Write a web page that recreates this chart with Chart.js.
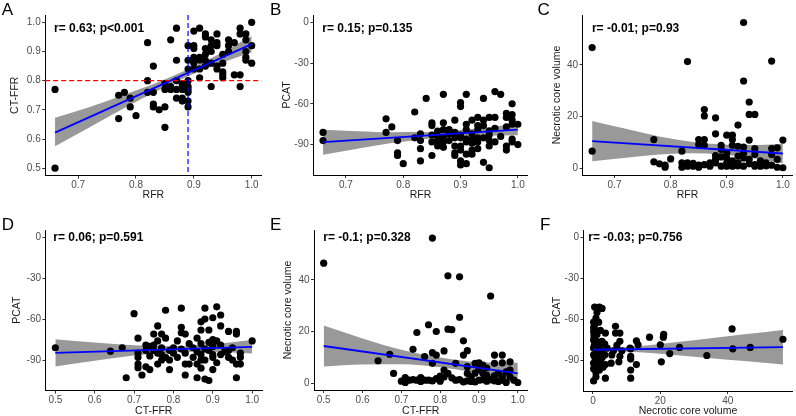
<!DOCTYPE html>
<html><head><meta charset="utf-8">
<script src="https://cdn.jsdelivr.net/npm/chart.js@4.4.1/dist/chart.umd.min.js"></script>
<style>
html,body{margin:0;padding:0;background:#fff;}
#wrap{position:relative;width:796px;height:416px;overflow:hidden;font-family:"Liberation Sans",Arial,sans-serif;}
#wrap canvas{position:absolute;}
.lab{position:absolute;font-size:17px;line-height:17px;color:#000;font-family:"Liberation Sans",Arial,sans-serif;}
</style></head>
<body><div id="wrap"></div>
<script>
// ---------- tick labels ----------
const rfrTicks = [0.7, 0.8, 0.9, 1.0];
const ctffrTicks = [0.5, 0.6, 0.7, 0.8, 0.9, 1.0];
const pcatTicks = [-90, -60, -30, 0];
const ncvTicks = [0, 20, 40];
const statLabels = ['r= 0.63; p<0.001','r= 0.15; p=0.135','r= -0.01; p=0.93','r= 0.06; p=0.591','r= -0.1; p=0.328','r= -0.03; p=0.756'];
const panelLetters = ['A','B','C','D','E','F'];

// ---------- A: RFR vs CT-FFR ----------
const pointsA = [[0.66,0.77],[0.66,0.50],[0.77,0.75],[0.78,0.76],[0.77,0.67],[0.79,0.74],[0.79,0.71],[0.80,0.68],[0.82,0.93],[0.82,0.80],[0.82,0.76],[0.83,0.85],[0.83,0.76],[0.83,0.72],[0.83,0.71],[0.84,0.70],[0.85,0.71],[0.85,0.64],[0.85,0.77],[0.85,0.79],[0.86,0.77],[0.86,0.94],[0.87,0.98],[0.87,0.87],[0.87,0.80],[0.87,0.74],[0.87,0.77],[0.88,0.79],[0.88,0.74],[0.88,0.73],[0.88,0.77],[0.89,0.92],[0.89,0.87],[0.89,0.84],[0.89,0.78],[0.89,0.76],[0.89,0.73],[0.89,0.71],[0.90,0.97],[0.90,0.92],[0.90,0.91],[0.90,0.88],[0.90,0.84],[0.91,0.98],[0.91,0.88],[0.91,0.81],[0.92,0.95],[0.92,0.91],[0.92,0.87],[0.92,0.96],[0.93,0.94],[0.93,0.90],[0.93,0.86],[0.93,0.78],[0.94,0.96],[0.94,0.93],[0.94,0.85],[0.94,0.84],[0.95,0.82],[0.95,0.81],[0.95,0.89],[0.95,0.83],[0.96,0.94],[0.96,0.92],[0.97,0.82],[0.98,0.98],[0.98,0.96],[0.98,0.82],[0.98,0.78],[0.99,0.96],[0.99,0.94],[0.99,0.90],[0.99,0.88],[0.99,0.87],[1.00,1.00],[1.00,0.86],[1.00,0.92],[0.91,0.87],[0.92,0.89],[0.93,0.92],[0.94,0.92],[0.95,0.86],[0.96,0.90],[0.97,0.93],[0.90,0.86],[0.91,0.84],[0.92,0.85],[0.88,0.78],[0.86,0.78],[0.89,0.77],[0.89,0.80]];
const fitA = [[0.66,0.622],[1.0,0.925]];
const bandA = [[0.66,0.575,0.673],[0.72,0.640,0.710],[0.78,0.706,0.752],[0.84,0.768,0.796],[0.89,0.815,0.839],[0.94,0.855,0.887],[1.0,0.897,0.953]];
const refA = {ctffrCut:0.8, rfrCut:0.89};

// ---------- B: RFR vs PCAT ----------
const pointsB = [[0.66,-81],[0.66,-87],[0.77,-71],[0.77,-81],[0.78,-77],[0.79,-87],[0.79,-96],[0.79,-98],[0.80,-104],[0.82,-66],[0.82,-85],[0.83,-82],[0.83,-93],[0.83,-102],[0.83,-87],[0.84,-56],[0.85,-74],[0.85,-76],[0.85,-83],[0.85,-98],[0.86,-84],[0.86,-87],[0.86,-91],[0.87,-53],[0.87,-74],[0.87,-79],[0.87,-85],[0.87,-92],[0.88,-79],[0.88,-82],[0.89,-72],[0.89,-85],[0.89,-91],[0.89,-96],[0.89,-98],[0.90,-59],[0.90,-62],[0.90,-83],[0.90,-91],[0.90,-102],[0.90,-105],[0.91,-53],[0.91,-75],[0.91,-86],[0.91,-88],[0.91,-104],[0.92,-72],[0.92,-89],[0.92,-94],[0.92,-97],[0.93,-70],[0.93,-76],[0.93,-85],[0.93,-88],[0.94,-56],[0.94,-72],[0.94,-103],[0.95,-70],[0.95,-83],[0.95,-91],[0.95,-107],[0.95,-87],[0.96,-51],[0.96,-70],[0.97,-53],[0.98,-67],[0.98,-70],[0.98,-91],[0.98,-94],[0.99,-60],[0.99,-68],[0.99,-75],[0.99,-86],[0.99,-88],[1.00,-75],[1.00,-90],[0.88,-87],[0.89,-81],[0.90,-85],[0.91,-79],[0.92,-82],[0.93,-79],[0.94,-85],[0.95,-80],[0.96,-88],[0.87,-88],[0.86,-80],[0.85,-88],[0.90,-94],[0.91,-97],[0.92,-86],[0.93,-93],[0.94,-76],[0.96,-78],[0.98,-77],[0.99,-72],[0.97,-84]];
const fitB = [[0.66,-88.2],[1.0,-78.9]];
const bandB = [[0.66,-97.4,-79.0],[0.72,-93.1,-80.1],[0.78,-88.9,-80.9],[0.84,-85.8,-80.8],[0.89,-84.1,-79.7],[0.94,-83.5,-77.5],[1.0,-83.2,-74.6]];

// ---------- C: RFR vs Necrotic core volume ----------
const pointsC = [[0.66,46.7],[0.66,6.7],[0.77,11.2],[0.77,2.6],[0.78,1.8],[0.79,1.3],[0.79,0.5],[0.80,3.7],[0.82,6.7],[0.82,2.2],[0.82,0.5],[0.83,41.3],[0.83,2.2],[0.83,0.9],[0.84,0.9],[0.85,11.2],[0.85,1.3],[0.85,9.3],[0.86,22.8],[0.86,20.3],[0.86,11.2],[0.86,9.0],[0.87,2.2],[0.87,0.9],[0.88,19.6],[0.88,13.4],[0.88,3.5],[0.88,2.2],[0.89,9.0],[0.89,7.4],[0.89,0.9],[0.90,12.9],[0.90,2.2],[0.90,0.9],[0.91,12.9],[0.91,11.2],[0.91,9.0],[0.91,0.9],[0.92,16.8],[0.92,8.6],[0.92,4.8],[0.92,2.2],[0.93,56.4],[0.93,33.8],[0.93,8.3],[0.93,4.1],[0.93,0.9],[0.94,25.7],[0.94,20.9],[0.94,11.0],[0.94,1.8],[0.95,20.9],[0.95,7.7],[0.95,5.4],[0.95,0.9],[0.96,0.9],[0.97,2.2],[0.98,41.5],[0.98,7.7],[0.98,5.4],[0.98,1.3],[0.99,8.0],[0.99,3.5],[0.99,0.5],[1.00,11.0],[1.00,0.3],[0.89,4.5],[0.90,6.0],[0.92,1.0],[0.93,6.0],[0.94,3.5],[0.95,1.5],[0.96,3.0],[0.97,1.0],[0.91,3.0],[0.88,5.0],[0.86,1.5],[0.85,0.5],[0.84,2.0],[0.90,4.0]];
const fitC = [[0.66,10.6],[1.0,5.8]];
const bandC = [[0.66,2.8,18.4],[0.72,4.15,15.35],[0.78,5.41,12.41],[0.84,5.86,10.26],[0.89,5.45,9.25],[0.94,4.25,9.05],[1.0,2.0,9.6]];

// ---------- D: CT-FFR vs PCAT ----------
const pointsD = [[0.50,-81],[0.64,-83.5],[0.67,-81],[0.68,-103],[0.70,-56],[0.71,-74],[0.71,-85],[0.71,-88],[0.71,-93],[0.71,-95.6],[0.72,-101],[0.73,-79],[0.73,-83],[0.73,-95],[0.74,-80],[0.74,-87],[0.74,-97],[0.75,-71],[0.75,-79],[0.75,-83],[0.76,-65],[0.76,-76],[0.76,-85],[0.76,-93],[0.77,-71],[0.77,-81],[0.77,-86],[0.77,-90],[0.78,-74],[0.78,-88],[0.78,-53.5],[0.79,-97],[0.79,-83],[0.80,-85],[0.80,-81],[0.81,-76],[0.81,-88],[0.82,-52],[0.82,-66],[0.82,-70],[0.82,-82],[0.83,-71],[0.83,-93],[0.83,-101],[0.83,-85],[0.84,-93],[0.85,-81],[0.85,-88],[0.86,-74],[0.86,-93],[0.86,-103],[0.87,-68],[0.87,-78],[0.87,-86],[0.87,-96],[0.87,-90],[0.87,-62],[0.88,-52],[0.88,-60],[0.88,-82],[0.88,-104],[0.89,-68],[0.89,-83],[0.89,-105],[0.90,-97],[0.90,-80],[0.90,-59],[0.90,-75],[0.90,-86],[0.91,-51],[0.91,-76],[0.91,-92],[0.92,-57],[0.92,-65],[0.92,-79],[0.92,-86],[0.94,-69],[0.94,-83],[0.94,-88],[0.95,-81],[0.96,-69],[0.96,-71],[0.96,-93],[0.96,-103],[0.97,-85],[0.97,-88],[0.97,-93],[1.00,-76],[0.79,-90],[0.84,-78],[0.86,-84],[0.90,-88],[0.93,-84],[0.95,-90],[0.88,-90],[0.89,-77]];
const fitD = [[0.5,-84.7],[1.0,-80.3]];
const bandD = [[0.5,-94.7,-74.7],[0.6,-90.5,-77.1],[0.7,-86.7,-79.1],[0.8,-84.4,-79.8],[0.85,-83.9,-79.3],[0.9,-83.9,-78.5],[1.0,-85.2,-75.4]];

// ---------- E: CT-FFR vs Necrotic core volume ----------
const pointsE = [[0.50,46.5],[0.64,8.8],[0.67,11.3],[0.68,3.9],[0.70,0.9],[0.71,0.4],[0.71,2.3],[0.72,1.3],[0.73,13.2],[0.74,19.7],[0.74,1.3],[0.75,2.3],[0.76,1.3],[0.76,10.4],[0.77,22.7],[0.77,1.3],[0.78,56.2],[0.78,11.9],[0.78,7.8],[0.79,20.1],[0.79,11.0],[0.79,1.9],[0.80,2.9],[0.81,12.6],[0.81,5.2],[0.82,41.6],[0.82,21.0],[0.83,20.8],[0.82,3.9],[0.83,2.2],[0.84,7.8],[0.84,1.3],[0.85,41.2],[0.85,25.6],[0.86,16.5],[0.86,11.0],[0.87,12.7],[0.87,3.9],[0.86,0.6],[0.87,1.0],[0.88,2.6],[0.89,7.8],[0.89,0.6],[0.90,8.0],[0.90,1.3],[0.91,7.1],[0.91,3.9],[0.92,0.9],[0.93,33.8],[0.92,3.2],[0.94,1.0],[0.94,11.0],[0.94,7.8],[0.95,3.9],[0.96,11.0],[0.96,8.0],[0.96,2.6],[0.97,0.4],[0.98,8.4],[0.98,5.2],[0.98,2.6],[1.00,0.4],[0.73,1.5],[0.75,0.8],[0.78,1.0],[0.80,0.9],[0.81,2.5],[0.85,1.5],[0.88,0.8],[0.90,5.5],[0.93,1.5],[0.95,0.8],[0.97,4.5],[0.99,1.3],[0.91,1.5],[0.89,4.0],[0.87,6.5],[0.92,6.0],[0.94,3.0],[0.96,1.3]];
const fitE = [[0.5,14.5],[1.0,3.9]];
const bandE = [[0.5,6.6,22.4],[0.6,7.38,17.38],[0.7,7.46,13.06],[0.8,6.24,10.04],[0.85,5.18,8.98],[0.9,3.82,8.22],[1.0,-0.2,8.0]];

// ---------- F: Necrotic core volume vs PCAT ----------
const pointsF = [[56.4,-74.5],[46.7,-80.5],[41.5,-81.5],[41.3,-67],[33.8,-86.4],[25.7,-80.5],[22.8,-85],[21.0,-71],[20.9,-73],[20.0,-78.6],[20.3,-91],[16.8,-73],[13.4,-78.6],[12.9,-75.7],[12.9,-93],[11.2,-81.5],[11.2,-87],[11.2,-89],[11.2,-97],[11.2,-103],[11.0,-81],[8.6,-83],[8.0,-70],[8.0,-76],[8.0,-87],[7.7,-91],[6.7,-65],[6.7,-70],[7.1,-79],[5.6,-86],[6.1,-83],[5.4,-92],[4.2,-81],[3.7,-70],[3.5,-78],[3.7,-103],[3.5,-86],[3.7,-93],[2.7,-52],[1.9,-51],[1.2,-55],[0.9,-59],[0.5,-51],[0.2,-62],[0.2,-66],[0.2,-69],[0.2,-75],[0.2,-81],[0.2,-86],[0.2,-92],[0.2,-96],[0.2,-105],[0.9,-102],[1.2,-71],[1.2,-76],[1.2,-83],[1.2,-90],[1.2,-93],[1.9,-80],[1.9,-87],[1.9,-97],[2.2,-68],[2.5,-83],[2.7,-88],[2.7,-76],[1.7,-62],[0.7,-68],[0.5,-64],[0.4,-79],[0.6,-88],[0.9,-99],[1.5,-85],[2.2,-91],[3.0,-95],[0.3,-72],[1.0,-78]];
const fitF = [[0,-82.2],[56.4,-80.3]];
const bandF = [[0,-84.2,-80.2],[7,-83.56,-80.36],[15,-84.2,-79.2],[25,-86.16,-76.56],[35,-88.32,-73.72],[45,-90.48,-70.88],[56.4,-92.9,-67.7]];

// ---------- layout (pixels) ----------
const FONT = '"Liberation Sans", Arial, sans-serif';
Chart.defaults.font.family = FONT;

const panels = [
  {pts:pointsA, fit:fitA, band:bandA, ref:refA, xt:'RFR', yt:'CT-FFR', xr:[0.643,1.017], yr:[0.475,1.025], xTicks:rfrTicks, yTicks:ctffrTicks, xd:1, yd:1,
   box:{x:0,y:0,w:266,h:206}, area:{l:45.2,t:15,r:261.5,b:175.5}, ytPad:8.7, xtPad:4.5, stat:[8.8,13.3], letter:[1.7,1.1]},
  {pts:pointsB, fit:fitB, band:bandB, xt:'RFR', yt:'PCAT', xr:[0.643,1.017], yr:[-112.35,5.35], xTicks:rfrTicks, yTicks:pcatTicks, xd:1, yd:0,
   box:{x:266,y:0,w:266,h:206}, area:{l:47.3,t:15,r:261.6,b:175}, ytPad:14.4, xtPad:4.5, stat:[9,13.3], letter:[270,1.1]},
  {pts:pointsC, fit:fitC, band:bandC, xt:'RFR', yt:'Necrotic core volume', xr:[0.643,1.017], yr:[-2.5,59.3], xTicks:rfrTicks, yTicks:ncvTicks, xd:1, yd:0,
   box:{x:532,y:0,w:264,h:206}, area:{l:50.6,t:15,r:264,b:175}, ytPad:18.4, xtPad:4.5, stat:[9.3,13.3], letter:[537.5,1.1]},
  {pts:pointsD, fit:fitD, band:bandD, xt:'CT-FFR', yt:'PCAT', xr:[0.475,1.025], yr:[-112.35,5.35], xTicks:ctffrTicks, yTicks:pcatTicks, xd:1, yd:0,
   box:{x:0,y:206,w:266,h:210}, area:{l:45.5,t:24,r:262,b:184.5}, ytPad:10.4, xtPad:-1, stat:[7.8,7.3], letter:[1.7,216.1]},
  {pts:pointsE, fit:fitE, band:bandE, xt:'CT-FFR', yt:'Necrotic core volume', xr:[0.475,1.025], yr:[-2.5,59.3], xTicks:ctffrTicks, yTicks:ncvTicks, xd:1, yd:0,
   box:{x:266,y:206,w:266,h:210}, area:{l:48,t:24,r:261.5,b:184}, ytPad:16, xtPad:-1, stat:[9.3,7.3], letter:[270,216.1]},
  {pts:pointsF, fit:fitF, band:bandF, xt:'Necrotic core volume', yt:'PCAT', xr:[-2.8,59.2], yr:[-112.35,5.35], xTicks:ncvTicks, yTicks:pcatTicks, xd:0, yd:0,
   box:{x:532,y:206,w:264,h:210}, area:{l:51.5,t:24,r:262,b:185}, ytPad:18.4, xtPad:-1.5, stat:[4.8,7.3], letter:[540,216.1]}
];

const statPlugin = {
  id:'stat',
  afterDraw(chart, args, o){
    const {ctx, chartArea:a} = chart;
    ctx.save();
    ctx.font = 'bold 12px ' + FONT;
    ctx.fillStyle = '#000';
    ctx.textBaseline = 'middle';
    ctx.textAlign = 'left';
    ctx.fillText(o.text, a.left + o.dx, a.top + o.dy);
    ctx.restore();
  }
};
const refPlugin = {
  id:'refl',
  afterDatasetsDraw(chart, args, o){
    const {ctx, chartArea:a, scales:{x, y}} = chart;
    ctx.save();
    ctx.lineWidth = 1.2;
    ctx.setLineDash([5,3]);
    ctx.strokeStyle = '#FF0000';
    const yy = y.getPixelForValue(o.h);
    ctx.beginPath(); ctx.moveTo(a.left, yy); ctx.lineTo(a.right, yy); ctx.stroke();
    ctx.strokeStyle = '#0000FF';
    const xx = x.getPixelForValue(o.v);
    ctx.beginPath(); ctx.moveTo(xx, a.top); ctx.lineTo(xx, a.bottom); ctx.stroke();
    ctx.restore();
  }
};

const wrap = document.getElementById('wrap');
const fmt = (v, d) => d ? Number(v).toFixed(d) : String(v);

panels.forEach((p, i) => {
  const c = document.createElement('canvas');
  c.width = p.box.w; c.height = p.box.h;
  c.style.left = p.box.x + 'px'; c.style.top = p.box.y + 'px';
  c.style.width = p.box.w + 'px'; c.style.height = p.box.h + 'px';
  wrap.appendChild(c);

  const lab = document.createElement('div');
  lab.className = 'lab';
  lab.textContent = panelLetters[i];
  lab.style.left = p.letter[0] + 'px'; lab.style.top = p.letter[1] + 'px';
  wrap.appendChild(lab);

  const plugins = [statPlugin];
  const pluginOpts = {legend:{display:false}, tooltip:{enabled:false}, stat:{text:statLabels[i], dx:p.stat[0], dy:p.stat[1]}};
  if (p.ref) { plugins.push(refPlugin); pluginOpts.refl = {h:p.ref.ctffrCut, v:p.ref.rfrCut}; }

  const tickFont = {size:10, family:FONT};
  const titleFont = {size:10.5, family:FONT};

  new Chart(c, {
    type:'scatter',
    data:{datasets:[
      {type:'line', data:p.fit.map(f=>({x:f[0], y:f[1]})), borderColor:'#0000FF', borderWidth:1.8, pointRadius:0, fill:false, order:0},
      {type:'scatter', data:p.pts.map(q=>({x:q[0], y:q[1]})), backgroundColor:'#000', borderWidth:0, pointRadius:3.6, pointHoverRadius:3.6, order:1},
      {type:'line', data:p.band.map(b=>({x:b[0], y:b[2]})), borderColor:'rgba(0,0,0,0)', borderWidth:0, pointRadius:0, backgroundColor:'rgb(153,153,153)', fill:'+1', cubicInterpolationMode:'monotone', order:2},
      {type:'line', data:p.band.map(b=>({x:b[0], y:b[1]})), borderColor:'rgba(0,0,0,0)', borderWidth:0, pointRadius:0, fill:false, cubicInterpolationMode:'monotone', order:3}
    ]},
    options:{
      responsive:false, animation:false, devicePixelRatio:1,
      events:[],
      layout:{padding:{left:0, top:p.area.t, right:p.box.w - p.area.r, bottom:0}},
      plugins:pluginOpts,
      scales:{
        x:{type:'linear', position:'bottom', min:p.xr[0], max:p.xr[1],
           afterFit:s=>{s.height = p.box.h - p.area.b;},
           afterBuildTicks:s=>{s.ticks = p.xTicks.map(v=>({value:v}));},
           ticks:{callback:v=>fmt(v, p.xd), color:'#4D4D4D', font:tickFont, padding:1, maxRotation:0, autoSkip:false},
           grid:{display:true, drawOnChartArea:false, drawTicks:true, tickLength:3, tickColor:'#333', tickWidth:1},
           border:{display:true, color:'#000', width:1},
           title:{display:true, text:p.xt, color:'#1A1A1A', font:titleFont, padding:{top:0, bottom:p.xtPad}}},
        y:{type:'linear', position:'left', min:p.yr[0], max:p.yr[1],
           afterFit:s=>{s.width = p.area.l;},
           afterBuildTicks:s=>{s.ticks = p.yTicks.map(v=>({value:v}));},
           ticks:{callback:v=>fmt(v, p.yd), color:'#4D4D4D', font:tickFont, padding:1.5, autoSkip:false},
           grid:{display:true, drawOnChartArea:false, drawTicks:true, tickLength:3, tickColor:'#333', tickWidth:1},
           border:{display:true, color:'#000', width:1},
           title:{display:true, text:p.yt, color:'#1A1A1A', font:titleFont, padding:{top:p.ytPad, bottom:0}}}
      }
    },
    plugins:plugins
  });
});
</script>
</body></html>
